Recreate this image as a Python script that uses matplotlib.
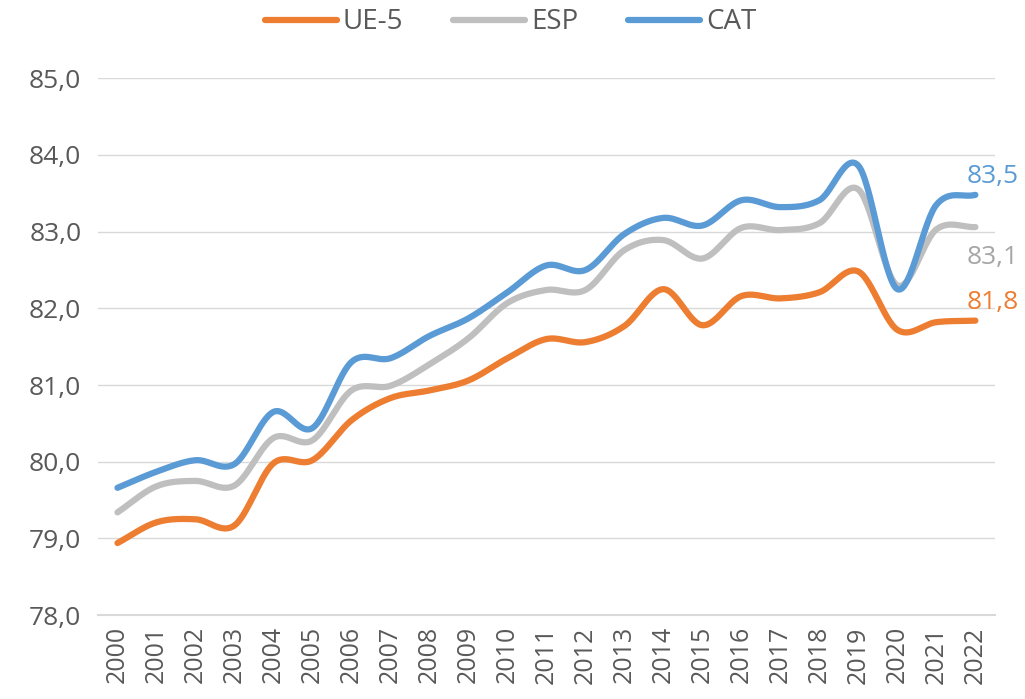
import numpy as np
import matplotlib.pyplot as plt

years = [str(y) for y in range(2000, 2023)]
ue5 = [78.94, 79.21, 79.25, 79.17, 79.98, 80.02, 80.54, 80.83, 80.93, 81.06, 81.35, 81.60,
       81.56, 81.77, 82.25, 81.78, 82.16, 82.13, 82.21, 82.48, 81.72, 81.82, 81.84]
esp = [79.34, 79.68, 79.75, 79.69, 80.31, 80.28, 80.93, 80.99, 81.27, 81.61, 82.07, 82.24,
       82.24, 82.76, 82.89, 82.65, 83.05, 83.02, 83.11, 83.55, 82.30, 83.03, 83.06]
cat = [79.66, 79.87, 80.02, 79.97, 80.65, 80.44, 81.30, 81.35, 81.64, 81.87, 82.21, 82.56,
       82.50, 82.97, 83.18, 83.08, 83.41, 83.32, 83.41, 83.86, 82.25, 83.35, 83.48]
end_labels = ["81,8", "83,1", "83,5"]
series = [("UE-5", ue5, "#ED7D31", "#ED7D31"),
          ("ESP", esp, "#BFBFBF", "#A6A6A6"),
          ("CAT", cat, "#5B9BD5", "#5B9BD5")]

plt.rcParams['font.family'] = ['Open Sans', 'DejaVu Sans']
txt = "#595959"


def smooth(y, n=30):
    # catmull-rom curve through the points, like excel's smoothed line
    y = np.asarray(y, float)
    p = np.concatenate([[2 * y[0] - y[1]], y, [2 * y[-1] - y[-2]]])
    xs, ys = [], []
    for i in range(len(y) - 1):
        p0, p1, p2, p3 = p[i], p[i + 1], p[i + 2], p[i + 3]
        t = np.linspace(0, 1, n, endpoint=False)
        ys.append(0.5 * (2 * p1 + (-p0 + p2) * t + (2 * p0 - 5 * p1 + 4 * p2 - p3) * t ** 2
                         + (-p0 + 3 * p1 - 3 * p2 + p3) * t ** 3))
        xs.append(i + t)
    xs.append([len(y) - 1])
    ys.append([y[-1]])
    return np.concatenate(xs), np.concatenate(ys)


fig = plt.figure(figsize=(10.25, 6.99), dpi=100)
ax = fig.add_axes([0.0956, 0.12, 0.875, 0.768])

x = np.arange(len(years))
for (name, vals, col, lcol), lab in zip(series, end_labels):
    sx, sy = smooth(vals)
    ax.plot(sx, sy, color=col, lw=4.5, solid_capstyle='round', label=name)
    ax.annotate(lab, (x[-1], vals[-1]),
                xytext=(-6, 13 if name != "ESP" else -22), textcoords='offset points',
                color=lcol, fontsize=19, ha='left', va='center')

ax.set_xlim(-0.5, len(years) - 0.5)
ax.set_ylim(78, 85)
ax.set_yticks(np.arange(78, 85.1, 1))
ax.set_yticklabels([f"{v:.1f}".replace('.', ',') for v in np.arange(78, 85.1, 1)])
ax.set_xticks(x)
ax.set_xticklabels(years, rotation=90)
ax.tick_params(axis='both', length=0, colors=txt, labelsize=18)
ax.tick_params(axis='y', pad=12, labelsize=19)
ax.tick_params(axis='x', pad=8)
ax.grid(axis='y', color='#D9D9D9', lw=1)
ax.set_axisbelow(True)
for s in ['top', 'right', 'left']:
    ax.spines[s].set_visible(False)
ax.spines['bottom'].set_color('#D9D9D9')
ax.spines['bottom'].set_linewidth(1.5)

leg = ax.legend(loc='center', bbox_to_anchor=(0.46, 1.104), ncol=3, frameon=False,
                fontsize=20, handlelength=2.6, columnspacing=1.8, handletextpad=0.2)
for t in leg.get_texts():
    t.set_color(txt)

fig.savefig("out.png", dpi=100)
